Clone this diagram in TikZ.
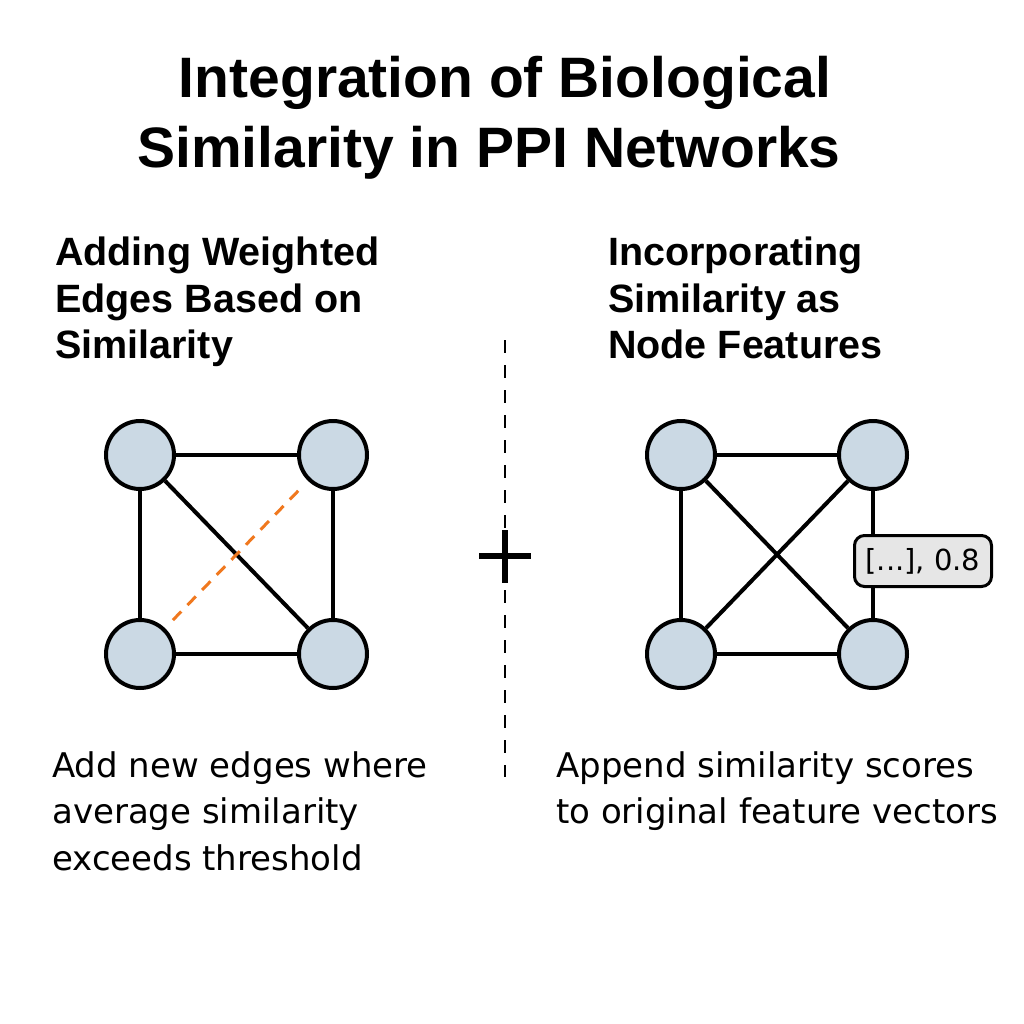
\documentclass[tikz,border=0pt]{standalone}
\usepackage{fontspec}
\setmainfont{Liberation Sans}
\newfontfamily\captionfont{DejaVu Sans}
\begin{document}
\begin{tikzpicture}[x=1pt,y=-1pt,
  titletext/.style={anchor=base,inner sep=0pt,font=\fontsize{57}{66}\selectfont\bfseries},
  headtext/.style={anchor=base west,inner sep=0pt,font=\fontsize{39.5}{46}\selectfont\bfseries},
  bodytext/.style={anchor=base west,inner sep=0pt,font=\captionfont\fontsize{34}{40}\selectfont},
  protein/.style={circle,draw=black,line width=4pt,fill=nodefill,minimum size=68pt,inner sep=0pt},
  link/.style={draw=black,line width=4pt},
  newlink/.style={draw=simorange,line width=3pt,dash pattern=on 12pt off 9pt,shorten <=14pt,shorten >=10pt},
  featbox/.style={draw=black,line width=3pt,fill=boxfill,rounded corners=10pt,minimum width=137pt,minimum height=51pt,inner sep=0pt,font=\captionfont\fontsize{29}{36}\selectfont},
]
\definecolor{nodefill}{RGB}{203,217,228}
\definecolor{simorange}{RGB}{240,120,30}
\definecolor{boxfill}{RGB}{230,230,230}
\useasboundingbox[fill=white] (0,0) rectangle (1024,1024);

% title
\node[titletext] (t1) at (505,98) {Integration of Biological};
\node[titletext] (t2) at (489,168) {Similarity in PPI Networks};

% left column heading
\node[headtext] (h1a) at (55,265) {Adding Weighted};
\node[headtext] (h1b) at (55,312) {Edges Based on};
\node[headtext] (h1c) at (55,358) {Similarity};

% right column heading
\node[headtext] (h2a) at (608,265) {Incorporating};
\node[headtext] (h2b) at (608,312) {Similarity as};
\node[headtext] (h2c) at (608,358) {Node Features};

% divider and plus sign
\coordinate (divtop) at (505,340);
\coordinate (divbot) at (505,777);
\draw[line width=2pt,dash pattern=on 13pt off 12pt] (divtop) -- (divbot);
\coordinate (plusl) at (479,556);
\coordinate (plusr) at (531,556);
\coordinate (plust) at (505,530);
\coordinate (plusb) at (505,583);
\draw[line width=6pt] (plusl) -- (plusr);
\draw[line width=6pt] (plust) -- (plusb);

% left network: new weighted edge
\node[protein] (a1) at (140,455) {};
\node[protein] (a2) at (333,455) {};
\node[protein] (a3) at (140,654) {};
\node[protein] (a4) at (333,654) {};
\draw[link] (a1) -- (a2);
\draw[link] (a3) -- (a4);
\draw[link] (a1) -- (a3);
\draw[link] (a2) -- (a4);
\draw[link] (a1) -- (a4);
\draw[newlink] (a2) -- (a3);

% right network: similarity as node feature
\node[protein] (b1) at (681,455) {};
\node[protein] (b2) at (873,455) {};
\node[protein] (b3) at (681,654) {};
\node[protein] (b4) at (873,654) {};
\draw[link] (b1) -- (b2);
\draw[link] (b3) -- (b4);
\draw[link] (b1) -- (b3);
\draw[link] (b2) -- (b4);
\draw[link] (b1) -- (b4);
\draw[link] (b2) -- (b3);
\node[featbox] (feat) at (923,561) {[...], 0.8};

% captions
\node[bodytext] (c1a) at (52,777) {Add new edges where};
\node[bodytext] (c1b) at (52,823) {average similarity};
\node[bodytext] (c1c) at (52,870) {exceeds threshold};
\node[bodytext] (c2a) at (556,777) {Append similarity scores};
\node[bodytext] (c2b) at (556,823) {to original feature vectors};
\end{tikzpicture}
\end{document}
